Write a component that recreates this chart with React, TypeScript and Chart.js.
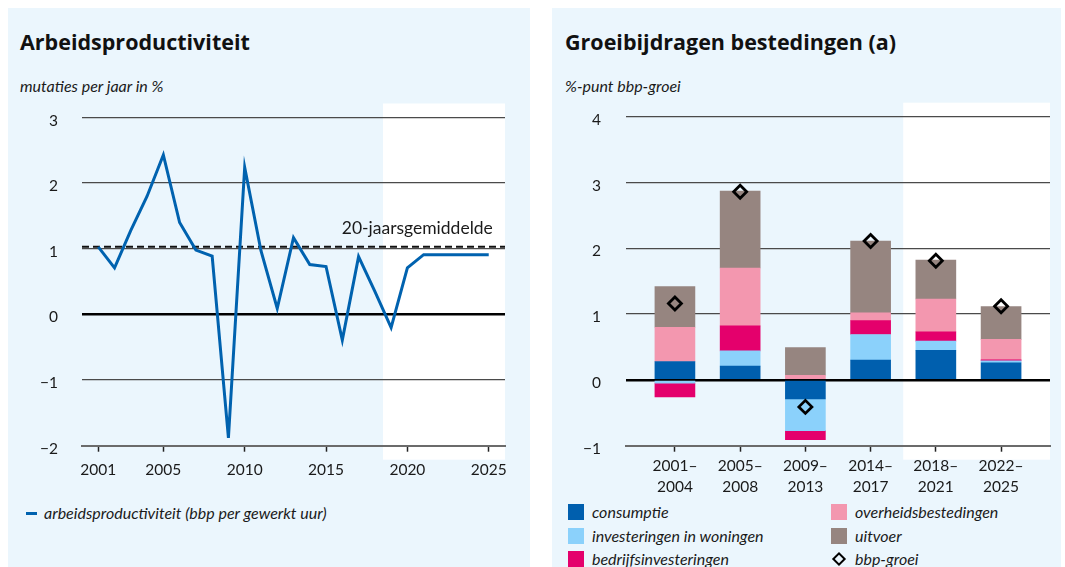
import React, { useEffect, useRef } from "react";
import { Chart, registerables } from "chart.js";

Chart.register(...registerables);

// ---------- data ----------
const years = [
  2001, 2002, 2003, 2004, 2005, 2006, 2007, 2008, 2009, 2010, 2011, 2012, 2013,
  2014, 2015, 2016, 2017, 2018, 2019, 2020, 2021, 2022, 2023, 2024, 2025,
];
const productivity = [
  1.03, 0.71, 1.28, 1.8, 2.43, 1.4, 0.98, 0.89, -1.88, 2.24, 0.97, 0.09, 1.17,
  0.76, 0.73, -0.39, 0.88, 0.35, -0.2, 0.71, 0.91, 0.91, 0.91, 0.91, 0.91,
];
const average20 = 1.03;
const leftXTicks = [2001, 2005, 2010, 2015, 2020, 2025];
const leftYTicks = [-2, -1, 0, 1, 2, 3];

const periods = [
  ["2001–", "2004"],
  ["2005–", "2008"],
  ["2009–", "2013"],
  ["2014–", "2017"],
  ["2018–", "2021"],
  ["2022–", "2025"],
];
const rightYTicks = [-1, 0, 1, 2, 3, 4];
const consumptie = [0.28, 0.21, -0.29, 0.3, 0.45, 0.26];
const woningen = [-0.05, 0.23, -0.48, 0.39, 0.14, 0.03];
const bedrijfs = [-0.21, 0.38, -0.14, 0.21, 0.14, 0.015];
const overheid = [0.52, 0.88, 0.07, 0.12, 0.5, 0.31];
const uitvoer = [0.62, 1.17, 0.42, 1.09, 0.59, 0.5];
const bbpGroei = [1.16, 2.86, -0.41, 2.11, 1.81, 1.12];

// ---------- styles ----------
const FONT = "Lato, 'Open Sans', sans-serif";
const TITLE_FONT = "'Open Sans', Lato, sans-serif";
const BG = "#ebf6fd";
const TXT = "#1a1a1a";
const BLUE = "#0062af";
const C_CONS = "#005fae";
const C_WON = "#8bd1fb";
const C_BEDR = "#e4006c";
const C_OVER = "#f397af";
const C_UIT = "#968580";
const GRID = "#4a4a4a";

const fmtNum = (v: number) => (v < 0 ? "−" + Math.abs(v) : String(v));

function forecastPlugin(startVal: number) {
  return {
    id: "forecast",
    beforeDraw(chart: any) {
      const { ctx, chartArea, scales } = chart;
      const x0 = scales.x.getPixelForValue(startVal);
      ctx.save();
      ctx.fillStyle = "#ffffff";
      ctx.fillRect(
        x0,
        chartArea.top - 14,
        chartArea.right - x0,
        chartArea.bottom - chartArea.top + 28
      );
      ctx.restore();
    },
  };
}

const avgLabelPlugin = {
  id: "avgLabel",
  afterDatasetsDraw(chart: any) {
    const { ctx, scales } = chart;
    ctx.save();
    ctx.font = `17.5px ${FONT}`;
    ctx.fillStyle = TXT;
    ctx.textAlign = "right";
    ctx.textBaseline = "middle";
    ctx.fillText(
      "20-jaarsgemiddelde",
      scales.x.getPixelForValue(2025.25),
      scales.y.getPixelForValue(1.31)
    );
    ctx.restore();
  },
};

function yGrid(gap: number) {
  return {
    drawTicks: true,
    tickLength: gap,
    tickColor: "rgba(0,0,0,0)",
    color: (c: any) => (c.tick && c.tick.value === 0 ? "#000" : GRID),
    lineWidth: (c: any) => (c.tick && c.tick.value === 0 ? 2.5 : 1.3),
  };
}

function xGrid() {
  return {
    offset: false,
    drawOnChartArea: false,
    drawTicks: true,
    tickLength: 6,
    tickColor: "#222",
    tickWidth: 1.5,
  };
}

export default function App() {
  const leftRef = useRef<HTMLCanvasElement>(null);
  const rightRef = useRef<HTMLCanvasElement>(null);

  useEffect(() => {
    const left = new Chart(leftRef.current as HTMLCanvasElement, {
      type: "line",
      data: {
        datasets: [
          {
            label: "arbeidsproductiviteit",
            data: years.map((y, i) => ({ x: y, y: productivity[i] })),
            borderColor: BLUE,
            borderWidth: 3,
            pointRadius: 0,
            tension: 0,
            order: 0,
          },
          {
            label: "20-jaarsgemiddelde",
            data: [
              { x: 2000, y: average20 },
              { x: 2026, y: average20 },
            ],
            borderColor: "#111",
            borderWidth: 2,
            borderDash: [7, 4],
            pointRadius: 0,
            order: 1,
          },
        ],
      },
      options: {
        responsive: false,
        animation: false,
        layout: { padding: { left: 0, right: 25, top: 17.5, bottom: 0 } },
        plugins: { legend: { display: false }, tooltip: { enabled: false } },
        scales: {
          x: {
            type: "linear",
            min: 2000,
            max: 2026,
            offset: false,
            afterBuildTicks: (s: any) => {
              s.ticks = leftXTicks.map((v) => ({ value: v }));
            },
            afterFit: (s: any) => {
              s.height = 54.3;
            },
            ticks: {
              callback: (v: any) => String(v),
              color: TXT,
              font: { family: FONT, size: 15.5 },
              padding: 9,
              maxRotation: 0,
              autoSkip: false,
            },
            grid: xGrid(),
            border: { display: true, color: "#6b6b6b", width: 2 },
          },
          y: {
            min: -2,
            max: 3,
            afterBuildTicks: (s: any) => {
              s.ticks = leftYTicks.map((v) => ({ value: v }));
            },
            afterFit: (s: any) => {
              s.width = 74;
            },
            ticks: {
              callback: (v: any) => fmtNum(v),
              color: TXT,
              font: { family: FONT, size: 15.5 },
              padding: 0,
              labelOffset: 3,
            },
            grid: yGrid(24) as any,
            border: { display: false },
          },
        },
      } as any,
      plugins: [forecastPlugin(2018.5), avgLabelPlugin],
    });

    const barSet = (label: string, vals: number[], color: string) => ({
      type: "bar" as const,
      label,
      data: vals.map((v, i) => ({ x: i, y: v })),
      backgroundColor: color,
      borderWidth: 0,
      barThickness: 40,
      stack: "s",
      order: 1,
    });

    const right = new Chart(rightRef.current as HTMLCanvasElement, {
      type: "bar",
      data: {
        datasets: [
          barSet("consumptie", consumptie, C_CONS),
          barSet("investeringen in woningen", woningen, C_WON),
          barSet("bedrijfsinvesteringen", bedrijfs, C_BEDR),
          barSet("overheidsbestedingen", overheid, C_OVER),
          barSet("uitvoer", uitvoer, C_UIT),
          {
            type: "line",
            label: "bbp-groei",
            data: bbpGroei.map((v, i) => ({ x: i, y: v })),
            showLine: false,
            pointStyle: "rectRot",
            pointRadius: 6.5,
            pointBorderWidth: 2.8,
            pointBorderColor: "#000",
            pointBackgroundColor: "rgba(0,0,0,0)",
            stack: "bbp",
            order: 0,
          } as any,
        ],
      },
      options: {
        responsive: false,
        animation: false,
        layout: { padding: { left: 0, right: 11, top: 16.7, bottom: 0 } },
        plugins: { legend: { display: false }, tooltip: { enabled: false } },
        scales: {
          x: {
            type: "linear",
            min: -0.75,
            max: 5.75,
            offset: false,
            stacked: true,
            afterBuildTicks: (s: any) => {
              s.ticks = periods.map((_, i) => ({ value: i }));
            },
            afterFit: (s: any) => {
              s.height = 54.3;
            },
            ticks: {
              callback: (v: any) => periods[Math.round(v)] || "",
              color: TXT,
              font: { family: FONT, size: 15.5, lineHeight: 1.35 },
              padding: 4,
              maxRotation: 0,
              autoSkip: false,
            },
            grid: xGrid(),
            border: { display: true, color: "#6b6b6b", width: 2 },
          },
          y: {
            min: -1,
            max: 4,
            stacked: true,
            afterBuildTicks: (s: any) => {
              s.ticks = rightYTicks.map((v) => ({ value: v }));
            },
            afterFit: (s: any) => {
              s.width = 74;
            },
            ticks: {
              callback: (v: any) => fmtNum(v),
              color: TXT,
              font: { family: FONT, size: 15.5 },
              padding: 0,
              labelOffset: 3,
            },
            grid: yGrid(25) as any,
            border: { display: false },
          },
        },
      } as any,
      plugins: [forecastPlugin(3.5)],
    });

    return () => {
      left.destroy();
      right.destroy();
    };
  }, []);

  const abs = (s: React.CSSProperties): React.CSSProperties => ({
    position: "absolute",
    ...s,
  });
  const title: React.CSSProperties = {
    fontFamily: TITLE_FONT,
    fontWeight: 700,
    fontSize: 21.5,
    lineHeight: "26px",
    color: "#111",
    whiteSpace: "nowrap",
  };
  const italic: React.CSSProperties = {
    fontFamily: FONT,
    fontStyle: "italic",
    fontSize: 16,
    lineHeight: "18px",
    color: TXT,
    whiteSpace: "nowrap",
  };

  const legendItems = [
    { label: "consumptie", color: C_CONS, col: 0, row: 0 },
    { label: "investeringen in woningen", color: C_WON, col: 0, row: 1 },
    { label: "bedrijfsinvesteringen", color: C_BEDR, col: 0, row: 2 },
    { label: "overheidsbestedingen", color: C_OVER, col: 1, row: 0 },
    { label: "uitvoer", color: C_UIT, col: 1, row: 1 },
  ];
  const rowY = [512, 535.5, 559];
  const colX = [568, 831];

  return (
    <div style={abs({ left: 0, top: 0, width: 1065, height: 567, overflow: "hidden" })}>
      <div style={abs({ left: 8, top: 8, width: 522, height: 559, background: BG })} />
      <div style={abs({ left: 552, top: 8, width: 509, height: 559, background: BG })} />

      <div style={abs({ left: 20, top: 29, ...title })}>Arbeidsproductiviteit</div>
      <div style={abs({ left: 20, top: 77, ...italic })}>mutaties per jaar in %</div>
      <div style={abs({ left: 565, top: 29, ...title })}>Groeibijdragen bestedingen (a)</div>
      <div style={abs({ left: 565, top: 77, ...italic })}>%-punt bbp-groei</div>

      <canvas
        ref={leftRef}
        width={522}
        height={400}
        style={abs({ left: 8, top: 100, width: 522, height: 400 })}
      />
      <canvas
        ref={rightRef}
        width={509}
        height={400}
        style={abs({ left: 552, top: 100, width: 509, height: 400 })}
      />

      {/* left legend */}
      <div style={abs({ left: 26, top: 511.5, width: 11, height: 3.5, background: BLUE })} />
      <div style={abs({ left: 44, top: 504, ...italic })}>
        arbeidsproductiviteit (bbp per gewerkt uur)
      </div>

      {/* right legend */}
      {legendItems.map((it) => (
        <React.Fragment key={it.label}>
          <div
            style={abs({
              left: colX[it.col],
              top: rowY[it.row] - 8,
              width: 16,
              height: 16,
              background: it.color,
            })}
          />
          <div style={abs({ left: colX[it.col] + 24, top: rowY[it.row] - 9, ...italic })}>
            {it.label}
          </div>
        </React.Fragment>
      ))}
      <div
        style={abs({
          left: 839 - 5,
          top: rowY[2] - 5,
          width: 10,
          height: 10,
          boxSizing: "border-box",
          border: "2.6px solid #000",
          transform: "rotate(45deg)",
        })}
      />
      <div style={abs({ left: colX[1] + 24, top: rowY[2] - 9, ...italic })}>bbp-groei</div>
    </div>
  );
}
